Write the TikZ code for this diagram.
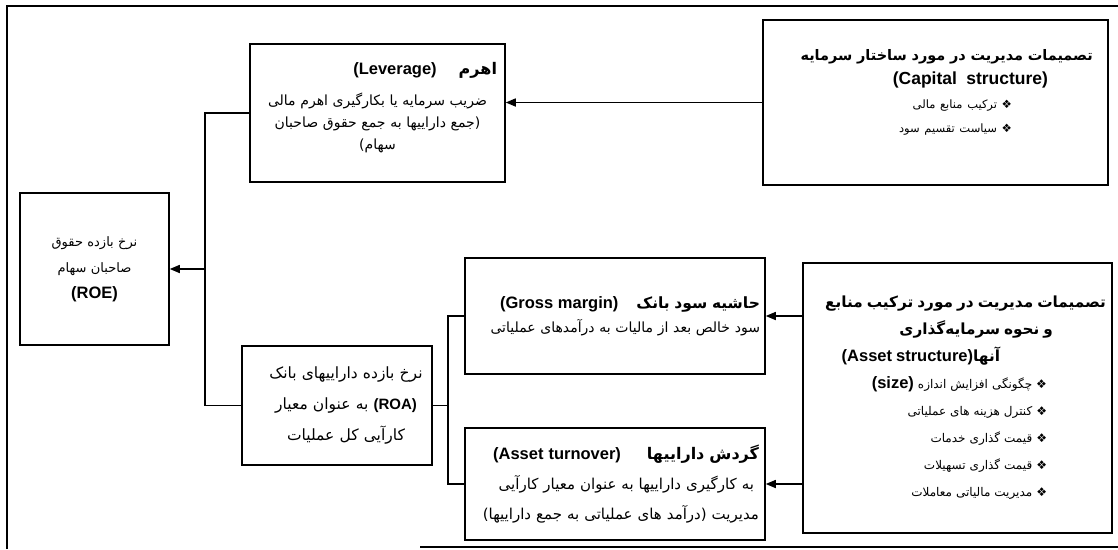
\documentclass[tikz,border=0pt]{standalone}
\usepackage{fontspec}
\usetikzlibrary{arrows.meta}
\TeXXeTstate=1
\newfontfamily\fa[Script=Arabic]{DejaVu Sans}
\newfontfamily\lat{Liberation Sans}
\newcommand{\fsz}[1]{\fontsize{#1}{24}\selectfont}
\newcommand{\myR}[1]{\beginR #1\endR}
\newcommand{\myL}[1]{\beginL{\lat\bfseries\fsz{16.5}#1}\endL}
\newcommand{\bul}{❖\ }
\newcommand{\rgt}{\hspace*{\fill}}
\newcommand{\pad}[1]{\hspace*{#1}\mbox{}}
\begin{document}
\begin{tikzpicture}[x=1pt,y=-1pt,
  box/.style={draw, line width=1.5pt, inner sep=3pt, align=center,
    font=\fa\fontsize{14}{24}\selectfont},
  ln/.style={line width=1.5pt},
  arr/.style={ln, -{Triangle[length=10pt,width=8pt]}}]
\useasboundingbox (0,0) rectangle (1118,549);
% outer frame (partly cropped)
\draw[ln] (7,549) -- (7,6) -- (1118,6);
\draw[ln] (420,547) -- (1118,547);

\node[box, minimum width=255pt, minimum height=138pt, text width=247pt, font=\fa\fontsize{14}{22}\selectfont] (lev) at (377.5,113) {%
\rgt\myR{{\bfseries\fsz{16}اهرم}\hspace{22pt}\myL{(Leverage)}}\pad{4pt}\\[9pt]
\myR{ضریب سرمایه یا بکارگیری اهرم مالی}\\
\myR{(جمع داراییها به جمع حقوق صاحبان}\\
\myR{سهام)}\\[-8pt]\mbox{}};

\node[box, minimum width=345pt, minimum height=165pt, text width=337pt] (cap) at (935.5,102.5) {%
\rgt{\bfseries\fsz{14.5}\myR{تصمیمات مدیریت در مورد ساختار سرمایه}}\pad{11pt}\\
\rgt\myL{\fsz{17.5}(Capital\ \ structure)}\pad{56pt}\\
\rgt{\fsz{11.5}\myR{\bul ترکیب منابع مالی}}\pad{92pt}\\
\rgt{\fsz{11.5}\myR{\bul سیاست تقسیم سود}}\pad{92pt}\\
\mbox{}};

\node[box, minimum width=149pt, minimum height=152pt, text width=141pt, font=\fa\fontsize{13}{26}\selectfont] (roe) at (94.5,269) {%
\myR{نرخ بازده حقوق}\\
\myR{صاحبان سهام}\\
\myL{(ROE)}};

\node[box, minimum width=190pt, minimum height=119pt, text width=182pt, font=\fa\fontsize{15.5}{31}\selectfont] (roa) at (337,405.5) {%
\hspace*{18pt}\myR{نرخ بازده داراییهای بانک}\\
\hspace*{18pt}\myR{\myL{\fsz{15}(ROA)}\ به عنوان معیار}\\
\hspace*{18pt}\myR{کارآیی کل عملیات}};

\node[box, minimum width=300pt, minimum height=116pt, text width=292pt] (gro) at (615,316) {%
\rgt\myR{{\bfseries\fsz{15.5}حاشیه سود بانک}\hspace{18pt}\myL{(Gross margin)}}\pad{1pt}\\
\rgt\myR{سود خالص بعد از مالیات به درآمدهای عملیاتی}\pad{1pt}};

\node[box, minimum width=300pt, minimum height=112pt, text width=292pt, font=\fa\fontsize{15}{30}\selectfont] (tur) at (615,484) {%
\rgt\myR{{\bfseries\fsz{16}گردش داراییها}\hspace{26pt}\myL{(Asset turnover)}}\pad{2pt}\\
\rgt\myR{به کارگیری داراییها به عنوان معیار کارآیی}\pad{7pt}\\
\rgt\myR{مدیریت (درآمد های عملیاتی به جمع داراییها)}\pad{2pt}};

\node[box, minimum width=309pt, minimum height=270pt, text width=301pt, font=\fa\fontsize{12}{27}\selectfont] (ast) at (957.5,398) {%
\rgt{\bfseries\fsz{15.3}\myR{تصمیمات مدیریت در مورد ترکیب منابع}}\pad{2pt}\\
\rgt{\bfseries\fsz{15.3}\myR{و نحوه سرمایه‌گذاری}}\pad{55pt}\\
\rgt\myR{{\bfseries\fsz{15.3}آنها}\myL{(Asset structure)}}\pad{108pt}\\
\rgt\myR{\bul چگونگی افزایش اندازه \myL{(size)}}\pad{61pt}\\
\rgt\myR{\bul کنترل هزینه های عملیاتی}\pad{61pt}\\
\rgt\myR{\bul قیمت گذاری خدمات}\pad{61pt}\\
\rgt\myR{\bul قیمت گذاری تسهیلات}\pad{61pt}\\
\rgt\myR{\bul مدیریت مالیاتی معاملات}\pad{61pt}};

% connectors
\coordinate (j1) at (205,0);
\coordinate (j2) at (448,0);
\draw[arr] (cap.west) -- (cap.west -| lev.east);
\draw[ln] (lev.west) -- (lev.west -| j1) -- (roa.west -| j1) -- (roa.west);
\draw[arr] (roe.east -| j1) -- (roe.east);
\draw[ln] (roa.east) -- (roa.east -| j2);
\draw[ln] (gro.west) -- (gro.west -| j2) -- (tur.west -| j2) -- (tur.west);
\draw[arr] (ast.west |- gro.east) -- (gro.east);
\draw[arr] (ast.west |- tur.east) -- (tur.east);
\end{tikzpicture}
\end{document}
